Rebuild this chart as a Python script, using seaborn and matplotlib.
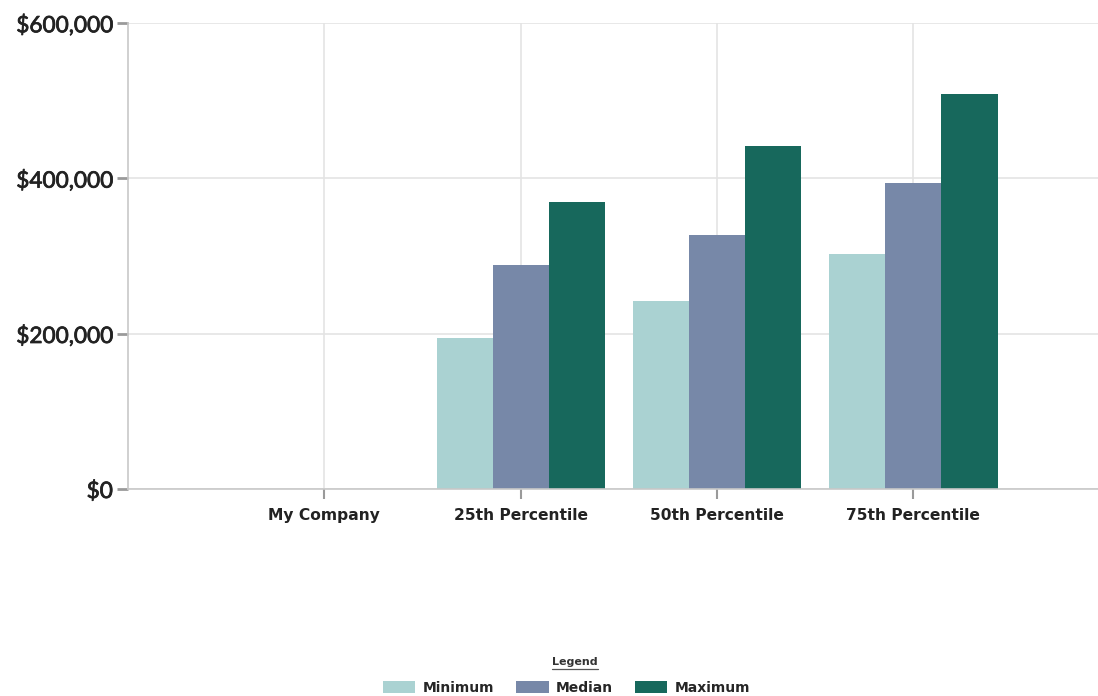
import pandas as pd
import numpy as np
import matplotlib
matplotlib.use('agg')
import matplotlib.pyplot as plt
import matplotlib.patheffects as pe
from matplotlib.lines import Line2D
import seaborn as sns

# values
categories = ['My Company', '25th Percentile', '50th Percentile', '75th Percentile']
series = ['Minimum', 'Median', 'Maximum']
minimum = [np.nan, 195000, 242000, 302000]
median = [np.nan, 288000, 327000, 394000]
maximum = [np.nan, 369000, 441000, 508000]
colors = ['#aad2d2', '#7788a8', '#17685c']
y_ticks = [0, 200000, 400000, 600000]

rows = []
for name, vals in zip(series, [minimum, median, maximum]):
    for cat, v in zip(categories, vals):
        rows.append({'category': cat, 'series': name, 'value': v})
df = pd.DataFrame(rows)

sns.set_style('white')
fig = plt.figure(figsize=(10.98, 6.96), dpi=100)
ax = fig.add_axes([0.1166, 0.2974, 0.8834, 0.6696])

sns.barplot(data=df.dropna(), x='category', y='value', hue='series',
            order=categories, hue_order=series, palette=colors,
            width=0.857, saturation=1, errorbar=None, linewidth=0, ax=ax)

ax.set_xlim(-1.0, 3.94)
ax.set_ylim(0, 600000)
ax.set_yticks(y_ticks, labels=[f'${v:,.0f}' for v in y_ticks],
              fontfamily='Lato', fontsize=16.3, color='#222222')
# Lato ships only in regular here, so thicken the strokes a bit
for lab in ax.get_yticklabels():
    lab.set_path_effects([pe.withStroke(linewidth=0.55, foreground='#222222')])
ax.set_xticks(range(len(categories)), labels=categories,
              fontfamily='DejaVu Sans', fontweight='bold', fontsize=11.2, color='#222222')
ax.set_xlabel('')
ax.set_ylabel('')

ax.grid(True, color='#e4e4e4', linewidth=1.2)
ax.set_axisbelow(True)
for s in ['top', 'right']:
    ax.spines[s].set_visible(False)
for s in ['left', 'bottom']:
    ax.spines[s].set_color('#c8c8c8')
    ax.spines[s].set_linewidth(1.2)
ax.tick_params(axis='y', left=True, length=8, width=2, color='#9a9a9a', pad=3)
ax.tick_params(axis='x', bottom=True, length=7, width=1.5, color='#9a9a9a', pad=7)

handles, labels = ax.get_legend_handles_labels()
ax.get_legend().remove()
fig.legend(handles, labels, loc='center', bbox_to_anchor=(0.516, 0.0115),
           ncol=3, frameon=False, handlelength=2.35, handleheight=0.9,
           handletextpad=0.55, columnspacing=1.55,
           prop={'family': 'DejaVu Sans', 'weight': 'bold', 'size': 10})

fig.text(0.5235, 0.049, 'Legend', ha='center', va='center', fontsize=8,
         color='#333333', fontfamily='DejaVu Sans', fontweight='bold')
fig.lines.append(Line2D([0.5025, 0.5445], [0.0385, 0.0385], transform=fig.transFigure,
                        color='#555555', linewidth=0.9))

fig.savefig('out.png', dpi=100)
